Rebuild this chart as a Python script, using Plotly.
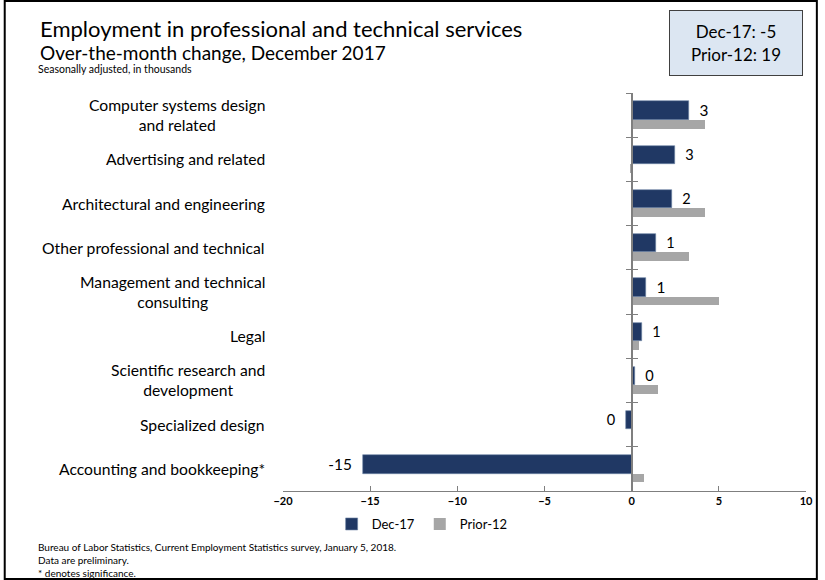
import math
import plotly.graph_objects as go

NAVY = "#203864"
GRAY = "#A6A6A6"
AXIS = "#7F7F7F"
FONT = "Lato"

categories = [
    "Computer systems design<br>and related",
    "Advertising and related",
    "Architectural and engineering",
    "Other professional and technical",
    "Management and technical<br>consulting",
    "Legal",
    "Scientific research and<br>development",
    "Specialized design",
    "Accounting and bookkeeping*",
]
dec17 = [3.3, 2.5, 2.3, 1.4, 0.8, 0.6, 0.2, -0.3, -15.4]
prior12 = [4.2, -0.1, 4.2, 3.3, 5.0, 0.4, 1.5, 0.1, 0.7]
total_dec17 = -5
total_prior12 = 19
x_ticks = [-20, -15, -10, -5, 0, 5, 10]

# pixel layout of the 825x580 canvas
W, H = 825, 580
L, R, T, B = 283, 12, 93, 89
PW, PH = W - L - R, H - T - B


def px(x):
    return (x - L) / PW


def py(y):
    return (H - B - y) / PH


# rounded value labels, padded away from the bar end
pad = "\u00a0\u00a0"
labels = []
for v in dec17:
    s = str(int(math.floor(v + 0.5)))
    labels.append(pad + s if v >= 0 else s + pad)

fig = go.Figure()
fig.add_trace(go.Bar(
    y=categories, x=dec17, orientation="h", name="Dec-17",
    marker=dict(color=NAVY, line=dict(color="#6F84A6", width=0.6)),
    width=0.415, offset=-0.31,
    text=labels, textposition="outside", cliponaxis=False,
    textfont=dict(size=17, color="#000000", family=FONT),
))
fig.add_trace(go.Bar(
    y=categories, x=prior12, orientation="h", name="Prior-12",
    marker=dict(color=GRAY, line=dict(width=0)),
    width=0.2, offset=0.105,
))
# invisible traces carrying the category tick axes drawn at zero
for ax in ("y2", "y3"):
    fig.add_trace(go.Bar(y=categories, x=[0] * len(categories), orientation="h",
                         yaxis=ax, showlegend=False, hoverinfo="skip",
                         marker=dict(color="rgba(0,0,0,0)")))

cat_axis = dict(categoryorder="array", categoryarray=categories,
                range=[len(categories) - 0.5, -0.5])
fig.update_layout(
    width=W, height=H,
    paper_bgcolor="white", plot_bgcolor="white",
    font=dict(family=FONT, color="#000000"),
    margin=dict(l=L, r=R, t=T, b=B),
    barmode="overlay",
    bargap=0,
    xaxis=dict(range=[-20, 10], tickvals=x_ticks, ticks="inside", ticklen=5,
               tickcolor=AXIS, showline=True, linecolor=AXIS, linewidth=1,
               showgrid=False, zeroline=False,
               tickfont=dict(size=11, family=FONT, weight="bold")),
    yaxis=dict(**cat_axis, showticklabels=False, showgrid=False, showline=False,
               ticks=""),
    yaxis2=dict(**cat_axis, overlaying="y", anchor="free", position=20 / 30,
                tickson="boundaries", ticks="outside", ticklen=5, tickcolor=AXIS,
                showticklabels=False, showgrid=False, showline=True,
                linecolor=AXIS, linewidth=1.5),
    yaxis3=dict(**cat_axis, overlaying="y", anchor="free", position=20 / 30,
                tickson="boundaries", ticks="inside", ticklen=5, tickcolor=AXIS,
                showticklabels=False, showgrid=False, showline=False),
    legend=dict(orientation="h", x=px(424), xanchor="center", y=py(524),
                yanchor="middle", font=dict(size=13), itemwidth=30,
                traceorder="normal"),
    showlegend=True,
)

ann = []
for c in categories:
    ann.append(dict(x=0, xref="paper", y=c, yref="y", xanchor="right",
                    xshift=-16, text=c, showarrow=False, align="center",
                    font=dict(size=15.7)))

ann += [
    dict(x=px(35), y=py(28), xref="paper", yref="paper", xanchor="left",
         yanchor="middle", showarrow=False, font=dict(size=22),
         text="Employment in professional and technical services"),
    dict(x=px(35), y=py(52), xref="paper", yref="paper", xanchor="left",
         yanchor="middle", showarrow=False, font=dict(size=19),
         text="Over-the-month change, December 2017"),
    dict(x=px(33), y=py(69), xref="paper", yref="paper", xanchor="left",
         yanchor="middle", showarrow=False, font=dict(size=10.5),
         text="Seasonally adjusted, in thousands"),
    dict(x=px(742), y=py(43), xref="paper", yref="paper", xanchor="center",
         yanchor="middle", showarrow=False, font=dict(size=17),
         width=128, height=60, align="center", valign="middle",
         bgcolor="#DCE6F2", bordercolor="#404040", borderwidth=1, borderpad=2,
         text=f"Dec-17: {total_dec17}<br>Prior-12: {total_prior12}"),
]
notes = [
    "Bureau of Labor Statistics, Current Employment Statistics survey, January 5, 2018.",
    "Data are preliminary.",
    "* denotes significance.",
]
for i, n in enumerate(notes):
    ann.append(dict(x=px(33), y=py(547 + 13 * i), xref="paper", yref="paper",
                    xanchor="left", yanchor="middle", showarrow=False,
                    font=dict(size=10), text=n))
fig.update_layout(annotations=ann)

# outer frame
fig.add_shape(type="rect", xref="paper", yref="paper",
              x0=px(1), x1=px(824), y0=py(579), y1=py(1),
              line=dict(color="#000000", width=2))

fig.write_html(
    "out.html",
    config={"displayModeBar": False},
    post_script="document.body.style.margin='0';"
                "document.body.style.overflow='hidden';",
)
